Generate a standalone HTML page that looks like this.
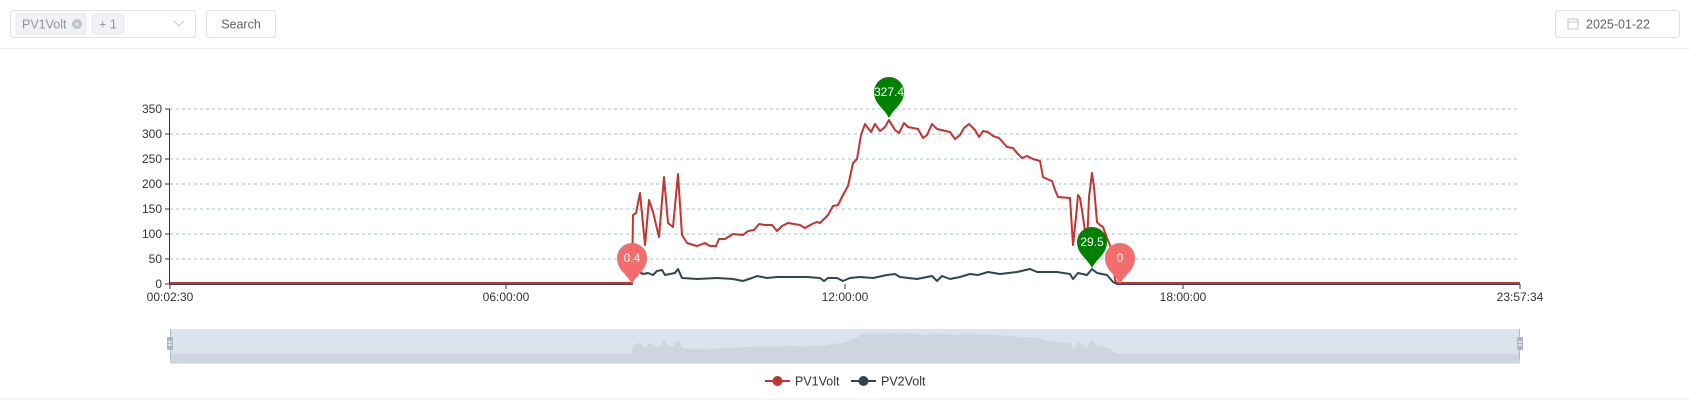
<!DOCTYPE html>
<html><head><meta charset="utf-8"><style>
html,body{margin:0;padding:0;background:#fff;width:1690px;height:400px;overflow:hidden;font-family:"Liberation Sans",sans-serif}
</style></head><body>
<svg width="1690" height="400" viewBox="0 0 1690 400" xmlns="http://www.w3.org/2000/svg" font-family="Liberation Sans, sans-serif">
<!-- header -->
<rect x="10.5" y="10.5" width="185" height="27" rx="3" fill="#fff" stroke="#dcdfe6"/>
<rect x="16" y="14" width="70" height="20" rx="3" fill="#f0f2f5" stroke="#e4e7ed"/>
<text x="22" y="28.5" font-size="12.5" fill="#909399">PV1Volt</text>
<circle cx="77" cy="24" r="5" fill="#c0c4cc"/>
<text x="77" y="27" font-size="8" fill="#fff" text-anchor="middle">×</text>
<rect x="92" y="14" width="32" height="20" rx="3" fill="#f0f2f5" stroke="#e4e7ed"/>
<text x="108" y="28.5" font-size="12.5" fill="#909399" text-anchor="middle">+ 1</text>
<polyline points="174,21 179,26 184,21" fill="none" stroke="#c0c4cc" stroke-width="1"/>
<rect x="206.5" y="10.5" width="69" height="27" rx="3" fill="#fff" stroke="#dcdfe6"/>
<text x="241" y="28.5" font-size="12.5" fill="#606266" text-anchor="middle">Search</text>
<rect x="1555.5" y="10.5" width="124" height="27" rx="3" fill="#fff" stroke="#dcdfe6"/>
<rect x="1568" y="19" width="10" height="10" fill="none" stroke="#c0c4cc"/>
<line x1="1568" y1="22" x2="1578" y2="22" stroke="#c0c4cc"/>
<text x="1586" y="28.5" font-size="12.5" fill="#606266">2025-01-22</text>
<line x1="0" y1="48.5" x2="1690" y2="48.5" stroke="#ebeef5"/>

<!-- grid -->
<g stroke="#9cc3e0" stroke-dasharray="3,3" stroke-width="1">
<line x1="170" y1="109" x2="1520" y2="109"/><line x1="170" y1="134" x2="1520" y2="134"/>
<line x1="170" y1="159" x2="1520" y2="159"/><line x1="170" y1="184" x2="1520" y2="184"/>
<line x1="170" y1="209" x2="1520" y2="209"/><line x1="170" y1="234" x2="1520" y2="234"/>
<line x1="170" y1="259" x2="1520" y2="259"/>
</g>
<g stroke="#333" stroke-width="1">
<line x1="169.5" y1="109" x2="169.5" y2="284"/>
<line x1="165" y1="109" x2="170" y2="109"/><line x1="165" y1="134" x2="170" y2="134"/>
<line x1="165" y1="159" x2="170" y2="159"/><line x1="165" y1="184" x2="170" y2="184"/>
<line x1="165" y1="209" x2="170" y2="209"/><line x1="165" y1="234" x2="170" y2="234"/>
<line x1="165" y1="259" x2="170" y2="259"/><line x1="165" y1="284" x2="170" y2="284"/>
<line x1="170" y1="284" x2="170" y2="289"/><line x1="506" y1="284" x2="506" y2="289"/>
<line x1="845" y1="284" x2="845" y2="289"/><line x1="1183" y1="284" x2="1183" y2="289"/>
<line x1="1520" y1="284" x2="1520" y2="289"/>
</g>
<g font-size="12" fill="#333" text-anchor="end">
<text x="162" y="113">350</text><text x="162" y="138">300</text><text x="162" y="163">250</text>
<text x="162" y="188">200</text><text x="162" y="213">150</text><text x="162" y="238">100</text>
<text x="162" y="263">50</text><text x="162" y="288">0</text>
</g>
<g font-size="12" fill="#333" text-anchor="middle">
<text x="170" y="301">00:02:30</text><text x="506" y="301">06:00:00</text>
<text x="845" y="301">12:00:00</text><text x="1183" y="301">18:00:00</text>
<text x="1520" y="301">23:57:34</text>
</g>

<!-- PV2 -->
<polyline fill="none" stroke="#2f4554" stroke-width="2" stroke-linejoin="round" points="170,284 632,284 633,275 638,271 643,274 648,273 653,275 657,271 662,270 665,275 670,274 675,273 678,269 682,278 697,279 717,278 733,279 743,281 752,278 757,276 767,278 777,277 790,277 807,277 820,278 824,281 828,278 837,278 843,281 850,278 860,277 873,278 887,275 895,274 900,277 917,279 932,276 937,281 942,276 950,279 960,277 970,274 978,275 988,272 1000,274 1017,272 1030,269 1037,272 1057,272 1070,274 1073,279 1078,273 1087,275 1092,269 1097,273 1107,275 1113,282 1117,284 1520,284"/>
<!-- PV1 -->
<polyline id="pv1" fill="none" stroke="#c23531" stroke-width="2" stroke-linejoin="round" points="170,283 632,283 633,215 636,213 640,193 645,245 649,200 653,212 659,237 664,177 668,223 673,227 678,174 682,235 687,243 697,246 705,243 710,246 716,246 719,239 725,239 733,234 743,235 748,231 754,230 759,224 765,225 772,225 777,231 782,226 788,223 800,225 805,228 812,224 817,222 820,223 828,215 833,206 838,205 843,195 848,186 853,163 857,159 861,135 865,124 871,132 875,124 880,131 885,127 889,120 895,130 899,133 904,123 908,127 918,129 923,138 927,135 932,124 937,129 950,132 955,139 960,135 964,128 969,124 975,130 979,137 983,131 988,132 993,136 999,138 1007,147 1013,148 1017,153 1022,158 1027,156 1033,159 1040,161 1043,177 1047,179 1052,181 1055,190 1058,197 1070,198 1073,245 1076,217 1078,195 1080,198 1083,217 1087,245 1089,197 1092,173 1094,187 1097,222 1100,225 1103,227 1107,238 1112,250 1115,280 1117,283 1520,283"/>

<!-- markers -->
<g>
<path d="M889,118 C884,108 874,104 874,92 A15,15 0 1 1 904,92 C904,104 894,108 889,118 Z" fill="#008000"/>
<text x="889" y="96" font-size="12" fill="#fff" text-anchor="middle">327.4</text>
<path d="M1092,268 C1087,258 1077,254 1077,242 A15,15 0 1 1 1107,242 C1107,254 1097,258 1092,268 Z" fill="#008000"/>
<text x="1092" y="246" font-size="12" fill="#fff" text-anchor="middle">29.5</text>
<path d="M632,284 C627,274 617,270 617,258 A15,15 0 1 1 647,258 C647,270 637,274 632,284 Z" fill="#f56c6c"/>
<text x="632" y="262" font-size="12" fill="#fff" text-anchor="middle">0.4</text>
<path d="M1120,284 C1115,274 1105,270 1105,258 A15,15 0 1 1 1135,258 C1135,270 1125,274 1120,284 Z" fill="#f56c6c"/>
<text x="1120" y="262" font-size="12" fill="#fff" text-anchor="middle">0</text>
</g>

<!-- datazoom -->
<rect x="170" y="329" width="1350" height="30" fill="#dde3ec"/>
<polygon fill="#cfd5df" transform="matrix(1 0 0 0.13 0 317)" points="170,283 632,283 633,215 636,213 640,193 645,245 649,200 653,212 659,237 664,177 668,223 673,227 678,174 682,235 687,243 697,246 705,243 710,246 716,246 719,239 725,239 733,234 743,235 748,231 754,230 759,224 765,225 772,225 777,231 782,226 788,223 800,225 805,228 812,224 817,222 820,223 828,215 833,206 838,205 843,195 848,186 853,163 857,159 861,135 865,124 871,132 875,124 880,131 885,127 889,120 895,130 899,133 904,123 908,127 918,129 923,138 927,135 932,124 937,129 950,132 955,139 960,135 964,128 969,124 975,130 979,137 983,131 988,132 993,136 999,138 1007,147 1013,148 1017,153 1022,158 1027,156 1033,159 1040,161 1043,177 1047,179 1052,181 1055,190 1058,197 1070,198 1073,245 1076,217 1078,195 1080,198 1083,217 1087,245 1089,197 1092,173 1094,187 1097,222 1100,225 1103,227 1107,238 1112,250 1115,280 1117,283 1520,283 1520,359 170,359"/>
<line x1="170.5" y1="329" x2="170.5" y2="359" stroke="#acb8d1"/>
<line x1="1519.5" y1="329" x2="1519.5" y2="359" stroke="#acb8d1"/>
<rect x="167" y="337" width="6" height="13" rx="1" fill="#a7b7cc"/>
<rect x="1517" y="337" width="6" height="13" rx="1" fill="#a7b7cc"/>
<line x1="168" y1="342" x2="172" y2="342" stroke="#fff"/><line x1="168" y1="345" x2="172" y2="345" stroke="#fff"/>
<line x1="1518" y1="342" x2="1522" y2="342" stroke="#fff"/><line x1="1518" y1="345" x2="1522" y2="345" stroke="#fff"/>

<!-- legend -->
<line x1="765" y1="381" x2="790" y2="381" stroke="#c23531" stroke-width="2"/>
<circle cx="777.5" cy="381" r="5" fill="#c23531"/>
<text x="795" y="385.5" font-size="12.5" fill="#333">PV1Volt</text>
<line x1="851" y1="381" x2="876" y2="381" stroke="#2f4554" stroke-width="2"/>
<circle cx="863.5" cy="381" r="5" fill="#2f4554"/>
<text x="881" y="385.5" font-size="12.5" fill="#333">PV2Volt</text>
<line x1="0" y1="399" x2="1690" y2="399" stroke="#ebeef5"/>
</svg>
</body></html>
